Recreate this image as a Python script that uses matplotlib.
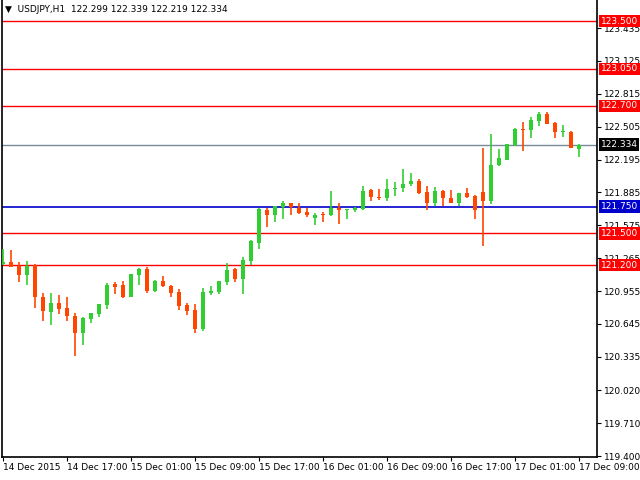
import matplotlib
matplotlib.use('Agg')
import matplotlib.pyplot as plt
import numpy as np

# USDJPY H1, bars from 14 Dec 2015 09:00
opens = [121.21, 121.23, 121.19, 121.11, 121.20, 120.90, 120.76, 120.84, 120.80, 120.72,
         120.56, 120.69, 120.74, 120.82, 121.02, 121.01, 120.90, 121.11, 121.16, 120.96,
         121.05, 121.00, 120.95, 120.82, 120.78, 120.60, 120.94, 120.95, 121.04, 121.16,
         121.07, 121.24, 121.41, 121.72, 121.67, 121.75, 121.79, 121.74, 121.70, 121.64,
         121.68, 121.67, 121.74, 121.72, 121.72, 121.73, 121.91, 121.845, 121.83, 121.92,
         121.93, 121.96, 121.99, 121.89, 121.79, 121.90, 121.83, 121.79, 121.88, 121.85,
         121.89, 121.80, 122.14, 122.19, 122.33, 122.48, 122.47, 122.56, 122.62, 122.54,
         122.45, 122.45, 122.299]
highs = [121.35, 121.34, 121.23, 121.24, 121.21, 120.94, 120.94, 120.92, 120.90, 120.75,
         120.71, 120.75, 120.83, 121.03, 121.04, 121.05, 121.12, 121.17, 121.18, 121.06,
         121.10, 121.01, 120.97, 120.84, 120.83, 120.98, 121.00, 121.05, 121.22, 121.17,
         121.28, 121.44, 121.74, 121.74, 121.76, 121.80, 121.79, 121.79, 121.74, 121.69,
         121.70, 121.90, 121.79, 121.73, 121.75, 121.95, 121.92, 121.92, 122.01, 121.98,
         122.11, 122.07, 122.01, 121.95, 121.94, 121.91, 121.91, 121.88, 121.93, 121.86,
         122.30, 122.44, 122.29, 122.34, 122.49, 122.55, 122.60, 122.64, 122.64, 122.55,
         122.52, 122.46, 122.339]
lows = [121.20, 121.18, 121.04, 121.015, 120.80, 120.67, 120.64, 120.74, 120.67, 120.34,
        120.45, 120.65, 120.71, 120.79, 120.93, 120.89, 120.90, 121.01, 120.94, 120.95,
        120.99, 120.90, 120.78, 120.73, 120.56, 120.58, 120.92, 120.93, 121.01, 121.04,
        120.93, 121.20, 121.35, 121.56, 121.61, 121.63, 121.67, 121.68, 121.65, 121.58,
        121.61, 121.66, 121.59, 121.63, 121.70, 121.72, 121.80, 121.81, 121.80, 121.85,
        121.89, 121.95, 121.87, 121.72, 121.76, 121.76, 121.79, 121.76, 121.83, 121.63,
        121.38, 121.78, 122.13, 122.19, 122.32, 122.28, 122.40, 122.51, 122.53, 122.40,
        122.41, 122.30, 122.219]
closes = [121.23, 121.18, 121.11, 121.19, 120.90, 120.77, 120.84, 120.79, 120.72, 120.56,
          120.70, 120.75, 120.83, 121.01, 120.99, 120.90, 121.12, 121.16, 120.96, 121.05,
          121.00, 120.94, 120.81, 120.77, 120.60, 120.95, 120.96, 121.05, 121.15, 121.07,
          121.25, 121.43, 121.73, 121.67, 121.76, 121.79, 121.75, 121.69, 121.67, 121.67,
          121.67, 121.74, 121.72, 121.73, 121.74, 121.90, 121.84, 121.835, 121.92, 121.93,
          121.96, 121.99, 121.88, 121.79, 121.90, 121.83, 121.79, 121.88, 121.84, 121.72,
          121.80, 122.14, 122.21, 122.34, 122.48, 122.47, 122.57, 122.62, 122.53, 122.45,
          122.46, 122.30, 122.334]

time_labels = ['14 Dec 2015', '14 Dec 17:00', '15 Dec 01:00', '15 Dec 09:00', '15 Dec 17:00',
               '16 Dec 01:00', '16 Dec 09:00', '16 Dec 17:00', '17 Dec 01:00', '17 Dec 09:00']
price_ticks = [123.435, 123.125, 122.815, 122.505, 122.195, 121.885, 121.575,
               121.265, 120.955, 120.645, 120.335, 120.020, 119.710, 119.400]

# horizontal levels (price, colour, label box colour)
levels = [(123.500, '#FF0000'), (123.050, '#FF0000'), (122.700, '#FF0000'),
          (121.500, '#FF0000'), (121.200, '#FF0000')]
support = 121.750
bid = 122.334

green = '#32CD32'
red = '#FF4500'

fig = plt.figure(figsize=(6.4, 4.8), dpi=100)
ax = fig.add_axes([2 / 640, 1 - 457 / 480, 595 / 640, 457 / 480])

x = np.arange(len(opens))
o = np.array(opens); h = np.array(highs); l = np.array(lows); c = np.array(closes)
up = c >= o
cols = np.where(up, green, red)
bottom = np.minimum(o, c)
height = np.maximum(np.abs(c - o), 0.008)

ax.vlines(x, l, h, colors=cols, linewidth=1.2, zorder=3)
ax.bar(x, height, bottom=bottom, width=0.62, color=cols, linewidth=0, zorder=4)

for p, col in levels:
    ax.axhline(p, color=col, linewidth=1, zorder=2)
ax.axhline(support, color='#0000CD', linewidth=1.2, zorder=2)
ax.axhline(bid, color='#778899', linewidth=1, zorder=2)

ax.set_xlim(-0.125, 74.25)
ax.set_ylim(119.391, 123.699)

# right price axis
ax.yaxis.tick_right()
ax.set_yticks(price_ticks)
ax.set_yticklabels(['%.3f' % t for t in price_ticks], fontsize=6.5)
ax.tick_params(axis='y', direction='out', length=3, width=0.8, pad=2)

# bottom time axis
ax.set_xticks(np.arange(0, 73, 8))
ax.set_xticklabels(time_labels, fontsize=6.5, ha='left')
ax.tick_params(axis='x', direction='out', length=3, width=0.8, pad=1)
for lab in ax.get_xticklabels():
    lab.set_x(0)

for s in ['left', 'right', 'bottom']:
    ax.spines[s].set_linewidth(1.2)
ax.spines['top'].set_visible(False)

tr = ax.get_yaxis_transform()
for p, col in levels:
    ax.text(1.006, p, '%.3f' % p, transform=tr, ha='left', va='center', fontsize=6.5,
            color='white', zorder=10, clip_on=False,
            bbox=dict(facecolor=col, edgecolor='none', pad=1.3))
ax.text(1.006, support, '%.3f' % support, transform=tr, ha='left', va='center', fontsize=6.5,
        color='white', zorder=10, clip_on=False,
        bbox=dict(facecolor='#0000CD', edgecolor='none', pad=1.3))
ax.text(1.006, bid, '%.3f' % bid, transform=tr, ha='left', va='center', fontsize=6.5,
        color='white', zorder=10, clip_on=False,
        bbox=dict(facecolor='black', edgecolor='none', pad=1.3))

fig.text(5 / 640, 1 - 10 / 480, '\u25bc  USDJPY,H1  122.299 122.339 122.219 122.334',
         fontsize=6.5, va='center', ha='left', color='black')

fig.savefig('out.png', dpi=100)
